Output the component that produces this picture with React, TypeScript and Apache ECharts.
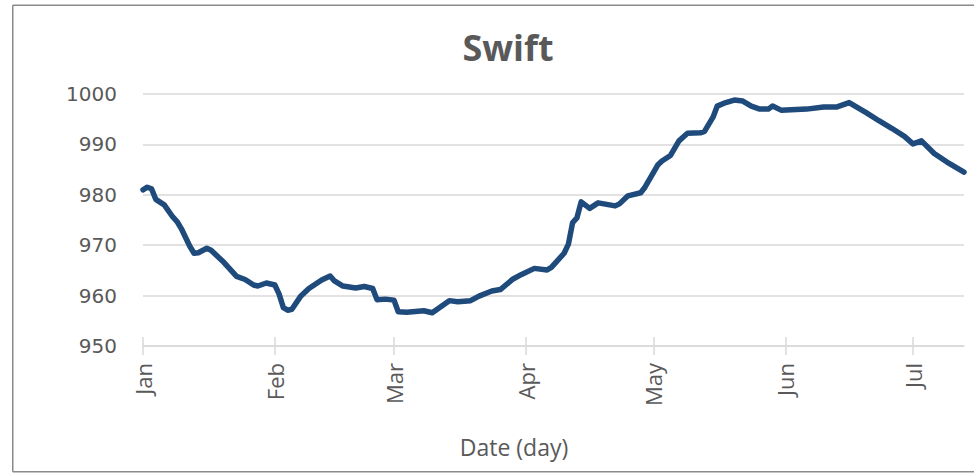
import React, { useEffect, useRef } from "react";
import * as echarts from "echarts";

// Daily pressure readings (month-day) for the "Swift" series
const dates: string[] = [
  "01-01", "01-02", "01-03", "01-04", "01-06", "01-08", "01-09", "01-10", "01-12", "01-13",
  "01-14", "01-16", "01-17", "01-18", "01-20", "01-23", "01-25", "01-27", "01-28", "01-30",
  "02-01", "02-02", "02-03", "02-04", "02-05", "02-07", "02-09", "02-12", "02-14", "02-15",
  "02-17", "02-20", "02-22", "02-24", "02-25", "02-27", "03-01", "03-02", "03-04", "03-08",
  "03-10", "03-14", "03-16", "03-19", "03-21", "03-24", "03-26", "03-29", "03-31", "04-03",
  "04-06", "04-07", "04-10", "04-11", "04-12", "04-13", "04-14", "04-16", "04-18", "04-22",
  "04-23", "04-25", "04-28", "04-29", "05-02", "05-03", "05-05", "05-07", "05-09", "05-12",
  "05-13", "05-15", "05-16", "05-18", "05-20", "05-22", "05-24", "05-26", "05-28", "05-29",
  "05-31", "06-06", "06-10", "06-13", "06-16", "06-20", "06-23", "06-26", "06-29", "07-01",
  "07-03", "07-06", "07-09", "07-13",
];

const values: number[] = [
  981.0, 981.5, 981.2, 979.1, 978.0, 975.6, 974.7, 973.3, 969.8, 968.4,
  968.5, 969.4, 969.0, 968.2, 966.6, 963.8, 963.2, 962.1, 961.9, 962.5,
  962.1, 960.3, 957.6, 957.1, 957.3, 959.8, 961.4, 963.1, 963.9, 962.9,
  961.9, 961.5, 961.8, 961.4, 959.2, 959.3, 959.1, 956.8, 956.7, 957.0,
  956.6, 959.0, 958.8, 959.0, 959.9, 960.9, 961.2, 963.3, 964.2, 965.4,
  965.1, 965.6, 968.4, 970.2, 974.5, 975.4, 978.6, 977.3, 978.4, 977.8,
  978.2, 979.8, 980.4, 981.5, 985.9, 986.7, 987.8, 990.7, 992.2, 992.3,
  992.6, 995.4, 997.6, 998.3, 998.8, 998.6, 997.6, 997.0, 997.0, 997.6,
  996.8, 997.0, 997.4, 997.4, 998.3, 996.3, 994.7, 993.2, 991.6, 990.1,
  990.7, 988.2, 986.5, 984.5,
];

const monthNames: string[] = ["Jan", "Feb", "Mar", "Apr", "May", "Jun", "Jul"];
const monthLengths: number[] = [31, 28, 31, 30, 31, 30, 31];
const yTicks: number[] = [950, 960, 970, 980, 990, 1000];

const chartTitle = "Swift";
const xTitle = "Date (day)";

// day-of-year offsets (0 = 1 Jan) for the first of each month
const monthStarts: number[] = monthLengths.reduce<number[]>((acc, len, i) => {
  acc.push(i === 0 ? 0 : acc[i - 1] + monthLengths[i - 1]);
  return acc;
}, []);

const dayOfYear = (md: string): number => {
  const [m, d] = md.split("-").map(Number);
  return monthStarts[m - 1] + (d - 1);
};

const points = dates.map((d, i) => [dayOfYear(d), values[i]]);
const xMax = points[points.length - 1][0];
const tickDays = monthStarts.slice(0, monthNames.length);

const GRID_COLOR = "#d9d9d9";
const TEXT_COLOR = "#595959";
const FRAME_COLOR = "#8a8a8a";

export default function App() {
  const ref = useRef<HTMLDivElement>(null);

  useEffect(() => {
    if (!ref.current) return;
    const chart = echarts.init(ref.current, undefined, { renderer: "svg" });
    const frame = { stroke: FRAME_COLOR, lineWidth: 1.5 };
    chart.setOption({
      animation: false,
      backgroundColor: "#ffffff",
      grid: { left: 143, top: 94, right: 10, bottom: 128, containLabel: false },
      xAxis: [
        {
          type: "value",
          min: 0,
          max: xMax,
          axisLine: { show: true, lineStyle: { color: GRID_COLOR, width: 1.5 } },
          axisTick: {
            show: true,
            length: 9,
            customValues: tickDays,
            lineStyle: { color: GRID_COLOR, width: 1.5 },
          },
          axisLabel: {
            customValues: tickDays,
            rotate: 90,
            margin: 17,
            color: TEXT_COLOR,
            fontFamily: "Open Sans",
            fontSize: 22,
            formatter: (v: number) => monthNames[tickDays.indexOf(Math.round(v))] ?? "",
          },
          splitLine: { show: false },
        },
        {
          // upward half of the crossing tick marks
          type: "value",
          position: "bottom",
          min: 0,
          max: xMax,
          axisLine: { show: false },
          axisTick: {
            show: true,
            inside: true,
            length: 9,
            customValues: tickDays,
            lineStyle: { color: GRID_COLOR, width: 1.5 },
          },
          axisLabel: { show: false },
          splitLine: { show: false },
        },
      ],
      yAxis: {
        type: "value",
        min: yTicks[0],
        max: yTicks[yTicks.length - 1],
        interval: 10,
        axisLine: { show: false },
        axisTick: { show: false },
        axisLabel: {
          color: TEXT_COLOR,
          fontFamily: "DejaVu Sans",
          fontSize: 20,
          margin: 26,
          formatter: (v: number) => String(v),
        },
        splitLine: { show: true, lineStyle: { color: GRID_COLOR, width: 1.5 } },
      },
      series: [
        {
          type: "line",
          name: chartTitle,
          data: points,
          showSymbol: false,
          symbol: "none",
          lineStyle: { color: "#1f4a7c", width: 5.5, cap: "round", join: "round" },
          xAxisIndex: 0,
        },
      ],
      graphic: [
        { type: "line", shape: { x1: 12.75, y1: 5.25, x2: 980, y2: 5.25 }, style: frame, silent: true },
        { type: "line", shape: { x1: 12.75, y1: 5.25, x2: 12.75, y2: 471.75 }, style: frame, silent: true },
        { type: "line", shape: { x1: 12.75, y1: 471.75, x2: 980, y2: 471.75 }, style: frame, silent: true },
        {
          type: "text",
          x: 508,
          y: 47,
          style: {
            text: chartTitle,
            fill: TEXT_COLOR,
            font: "bold 36px 'Open Sans'",
            align: "center",
            verticalAlign: "middle",
          },
        },
        {
          type: "text",
          x: 514,
          y: 447,
          style: {
            text: xTitle,
            fill: TEXT_COLOR,
            font: "23px 'Open Sans'",
            align: "center",
            verticalAlign: "middle",
          },
        },
      ],
    });
    return () => chart.dispose();
  }, []);

  return (
    <div
      ref={ref}
      style={{ position: "absolute", left: 0, top: 0, width: 974, height: 474 }}
    />
  );
}
